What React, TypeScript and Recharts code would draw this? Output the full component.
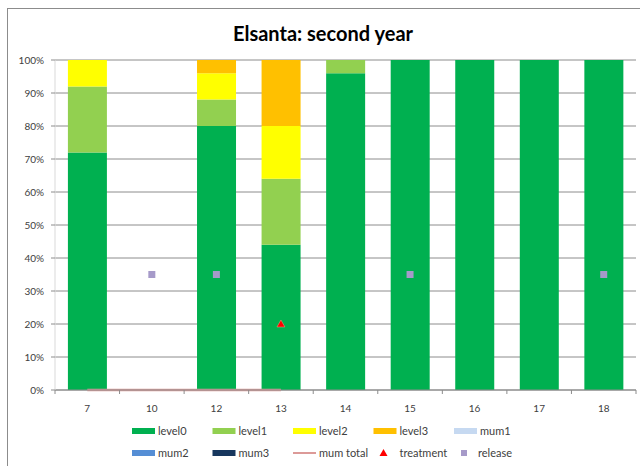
import { Bar, CartesianGrid, ComposedChart, Line, XAxis, YAxis } from "recharts"

const categories = ["7", "10", "12", "13", "14", "15", "16", "17", "18"]
const level0 = [72, 0, 80, 44, 96, 100, 100, 100, 100]
const level1 = [20, 0, 8, 20, 4, 0, 0, 0, 0]
const level2 = [8, 0, 8, 16, 0, 0, 0, 0, 0]
const level3 = [0, 0, 4, 20, 0, 0, 0, 0, 0]
const mum1 = [0, 0, 0, 0, 0, 0, 0, 0, 0]
const mum2 = [0, 0, 0, 0, 0, 0, 0, 0, 0]
const mum3 = [0, 0, 0, 0, 0, 0, 0, 0, 0]
const mumTotal = [0, 0, 0, 0, null, null, null, null, null]
const treatment = [null, null, null, 20, null, null, null, null, null]
const release = [null, 35, 35, null, null, 35, null, null, 35]
const yTicks = [0, 10, 20, 30, 40, 50, 60, 70, 80, 90, 100]

const data = categories.map((c, i) => ({
  week: c,
  level0: level0[i],
  level1: level1[i],
  level2: level2[i],
  level3: level3[i],
  mum1: mum1[i],
  mum2: mum2[i],
  mum3: mum3[i],
  mumTotal: mumTotal[i],
  treatment: treatment[i],
  release: release[i],
}))

const colors = {
  level0: "#00B050",
  level1: "#92D050",
  level2: "#FFFF00",
  level3: "#FFC000",
  mum1: "#C6D9F1",
  mum2: "#558ED5",
  mum3: "#17375E",
  mumTotal: "#DC9A98",
  treatment: "#FF0000",
  release: "#A69AC9",
}

const font = "Lato, 'Open Sans', sans-serif"
const halfBand = (636 - 55) / categories.length / 2

const XTick = (props: any) => {
  const { x, y, payload, index } = props
  return (
    <g>
      <line x1={x - halfBand} x2={x - halfBand} y1={y} y2={y + 4} stroke="#8c8c8c" />
      {index === categories.length - 1 && (
        <line x1={x + halfBand} x2={x + halfBand} y1={y} y2={y + 4} stroke="#8c8c8c" />
      )}
      <text x={x} y={y + 22} textAnchor="middle" fontSize={10} fill="#404040" fontFamily={font}>
        {payload.value}
      </text>
    </g>
  )
}

const Square = (props: any) => {
  const { cx, cy, key } = props
  if (cy == null || cx == null) return <g key={key} />
  return <rect key={key} x={cx - 3.5} y={cy - 3.5} width={7} height={7} fill={colors.release} />
}

const Triangle = (props: any) => {
  const { cx, cy, key } = props
  if (cy == null || cx == null) return <g key={key} />
  return (
    <path
      key={key}
      d={`M${cx},${cy - 4} L${cx + 4},${cy + 3} L${cx - 4},${cy + 3} Z`}
      fill={colors.treatment}
      stroke="#f0a080"
      strokeWidth={0.5}
    />
  )
}

const legendRows = [
  [
    { name: "level0", kind: "box", color: colors.level0 },
    { name: "level1", kind: "box", color: colors.level1 },
    { name: "level2", kind: "box", color: colors.level2 },
    { name: "level3", kind: "box", color: colors.level3 },
    { name: "mum1", kind: "box", color: colors.mum1 },
  ],
  [
    { name: "mum2", kind: "box", color: colors.mum2 },
    { name: "mum3", kind: "box", color: colors.mum3 },
    { name: "mum total", kind: "line", color: colors.mumTotal },
    { name: "treatment", kind: "tri", color: colors.treatment },
    { name: "release", kind: "sq", color: colors.release },
  ],
]

function LegendBlock() {
  return (
    <svg width={640} height={466} style={{ position: "absolute", left: 0, top: 0, pointerEvents: "none" }}>
      {legendRows.map((row, r) =>
        row.map((item, i) => {
          const x = 132 + i * 80.5
          const y = 431 + r * 22
          let mark
          if (item.kind === "box") mark = <rect x={x} y={y - 3} width={23} height={6} fill={item.color} />
          else if (item.kind === "line")
            mark = <line x1={x} x2={x + 23} y1={y} y2={y} stroke={item.color} strokeWidth={2} />
          else if (item.kind === "tri")
            mark = <path d={`M${x + 10},${y - 4} L${x + 14},${y + 3} L${x + 6},${y + 3} Z`} fill={item.color} />
          else mark = <rect x={x + 7} y={y - 3} width={6} height={6} fill={item.color} />
          const tx = item.kind === "sq" ? x + 24 : x + 26
          return (
            <g key={item.name}>
              {mark}
              <text x={tx} y={y + 4} fontSize={11} fill="#404040" fontFamily={font}>
                {item.name}
              </text>
            </g>
          )
        })
      )}
    </svg>
  )
}

export default function App() {
  return (
    <div style={{ position: "absolute", left: 0, top: 0, width: 640, height: 466, overflow: "hidden", background: "#fff" }}>
      <div
        style={{
          position: "absolute",
          left: 7,
          top: 8,
          width: 700,
          height: 500,
          borderLeft: "1px solid #8c8c8c",
          borderTop: "1px solid #8c8c8c",
        }}
      />
      <div
        style={{
          position: "absolute",
          left: 0,
          top: 21,
          width: 640,
          textAlign: "center",
          paddingLeft: 6,
          boxSizing: "border-box",
          fontFamily: font,
          fontWeight: 700,
          fontSize: 20,
          color: "#000",
        }}
      >
        Elsanta: second year
      </div>
      <div style={{ position: "absolute", left: 0, top: 0 }}>
        <ComposedChart
          width={640}
          height={466}
          data={data}
          margin={{ top: 60, right: 4, bottom: 46, left: 0 }}
          barCategoryGap="20%"
        >
          <CartesianGrid vertical={false} stroke="#8c8c8c" />
          <XAxis
            dataKey="week"
            height={30}
            axisLine={{ stroke: "#8c8c8c" }}
            tickLine={false}
            tickSize={0}
            tickMargin={0}
            tick={<XTick />}
            interval={0}
          />
          <YAxis
            width={55}
            domain={[0, 100]}
            ticks={yTicks}
            tickFormatter={(v) => `${v}%`}
            axisLine={{ stroke: "#d9d9d9" }}
            tickLine={{ stroke: "#8c8c8c" }}
            tickSize={4}
            tickMargin={7}
            tick={{ fontSize: 10, fill: "#404040", fontFamily: font }}
          />
          <Bar dataKey="level0" stackId="a" fill={colors.level0} isAnimationActive={false} />
          <Bar dataKey="level1" stackId="a" fill={colors.level1} isAnimationActive={false} />
          <Bar dataKey="level2" stackId="a" fill={colors.level2} isAnimationActive={false} />
          <Bar dataKey="level3" stackId="a" fill={colors.level3} isAnimationActive={false} />
          <Bar dataKey="mum1" stackId="a" fill={colors.mum1} isAnimationActive={false} />
          <Bar dataKey="mum2" stackId="a" fill={colors.mum2} isAnimationActive={false} />
          <Bar dataKey="mum3" stackId="a" fill={colors.mum3} isAnimationActive={false} />
          <Line
            dataKey="mumTotal"
            stroke={colors.mumTotal}
            strokeWidth={2.5}
            dot={false}
            isAnimationActive={false}
          />
          <Line dataKey="treatment" stroke="none" dot={Triangle} activeDot={false} isAnimationActive={false} />
          <Line dataKey="release" stroke="none" dot={Square} activeDot={false} isAnimationActive={false} />
        </ComposedChart>
      </div>
      <LegendBlock />
    </div>
  )
}
